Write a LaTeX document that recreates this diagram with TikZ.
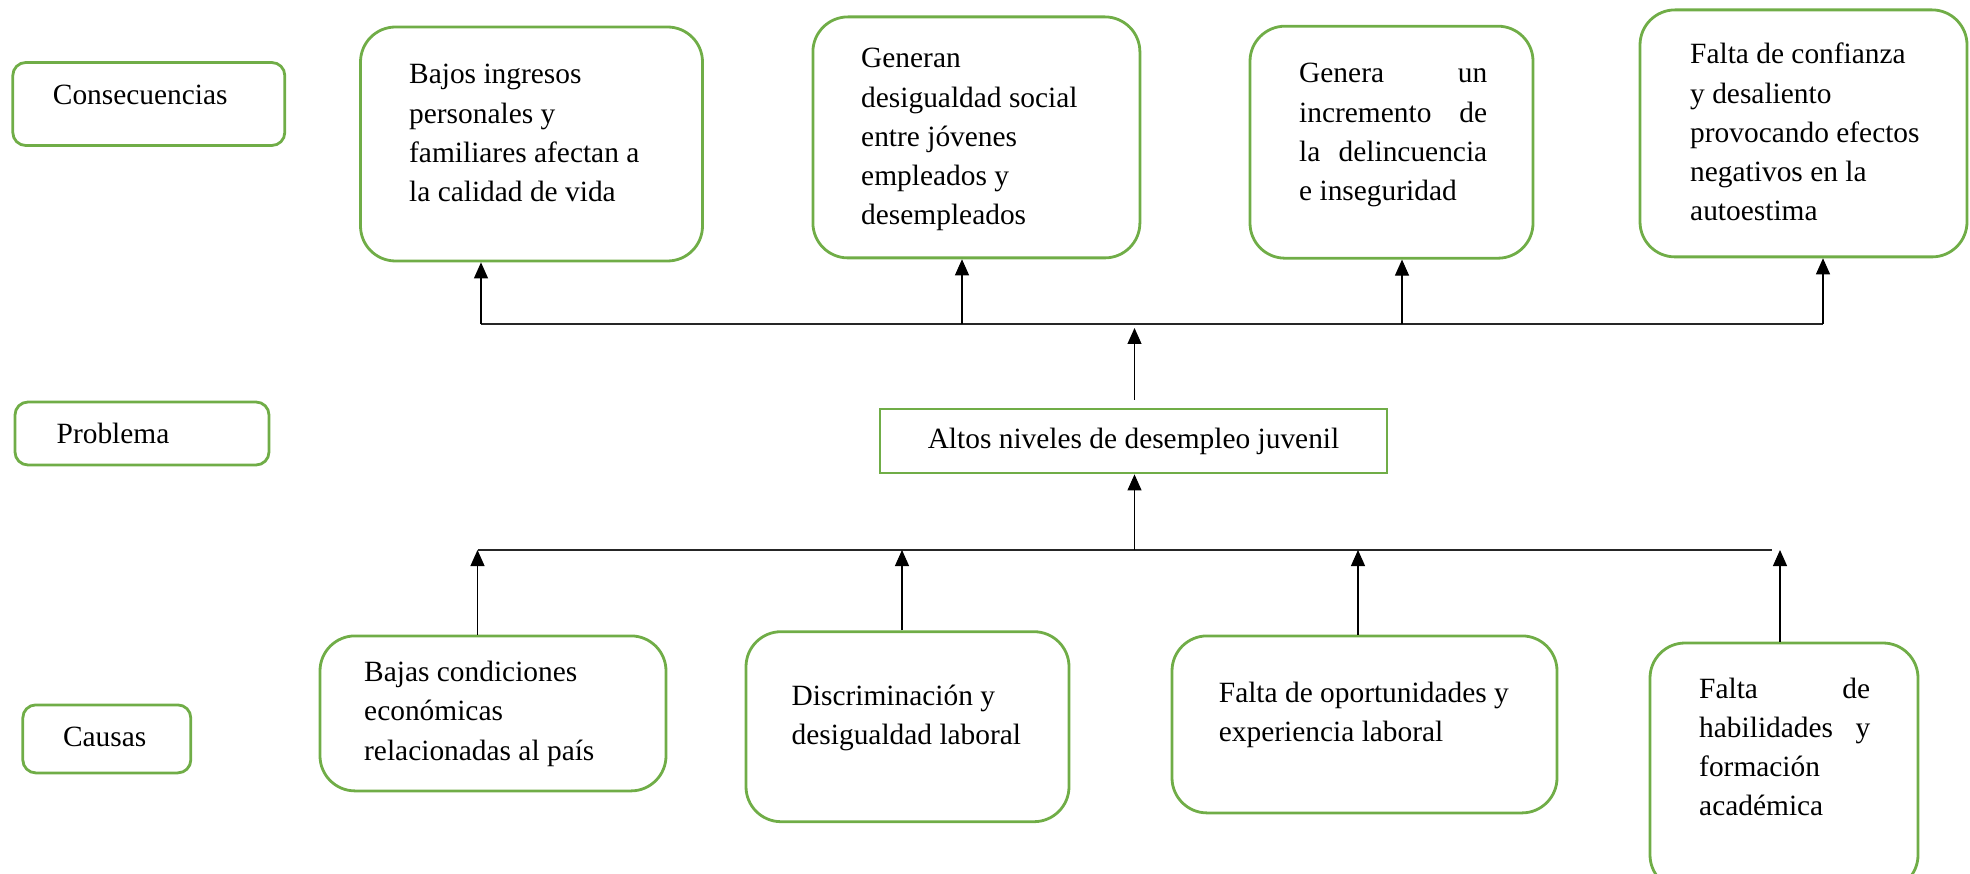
\documentclass[tikz,border=0pt]{standalone}
\usepackage{fontspec}
\setmainfont{Liberation Serif}
\usetikzlibrary{arrows.meta}
\definecolor{boxgreen}{RGB}{112,173,71}

\begin{document}
\begin{tikzpicture}[x=1pt, y=-1pt,
  box/.style={draw=boxgreen, line width=2.8pt, rounded corners=35pt, inner sep=0},
  tag/.style={draw=boxgreen, line width=2.8pt, rounded corners=13pt, inner sep=0},
  txt/.style={anchor=base west, inner sep=0, align=flush left, text width=#1,
    font=\fontsize{29.4}{39.2}\selectfont},
  txt/.default=330pt,
  arr/.style={-{Triangle[length=16pt,width=14pt]}, line width=1.1pt},
  bus/.style={line width=1.6pt, black!85}]
\useasboundingbox (0,0) rectangle (1970,874);
\clip (0,0) rectangle (1970,874);

% rotulos de la izquierda
\node[tag, minimum width=272pt, minimum height=83pt] (cons) at (148.8,104) {};
\node[tag, minimum width=254pt, minimum height=63pt] (prob) at (142,433.5) {};
\node[tag, minimum width=168pt, minimum height=68pt] (caus) at (106.8,738.9) {};
\node[txt] (const) at (52.7,105) {Consecuencias};
\node[txt] (probt) at (56.5,443.3) {Problema};
\node[txt] (caust) at (62.8,746) {Causas};

% consecuencias
\node[box, minimum width=342pt, minimum height=234pt] (c1) at (531.5,144) {};
\node[box, minimum width=327pt, minimum height=241pt] (c2) at (976.4,137.4) {};
\node[box, minimum width=283pt, minimum height=232pt] (c3) at (1391.5,142.2) {};
\node[box, minimum width=327pt, minimum height=247pt] (c4) at (1803.5,133.4) {};
\node[txt] (c1t) at (409,84) {Bajos ingresos\\personales y\\familiares afectan a\\la calidad de vida};
\node[txt] (c2t) at (861,68) {Generan\\desigualdad social\\entre jóvenes\\empleados y\\desempleados};
\node[txt=188pt] (c3t) at (1299,83) {Genera \hfill un\\incremento \hfill de\\la \hfill delincuencia\\e inseguridad};
\node[txt] (c4t) at (1690,64) {Falta de confianza\\y desaliento\\provocando efectos\\negativos en la\\autoestima};

% problema
\node[draw=boxgreen, line width=2.8pt, minimum width=507pt, minimum height=64pt,
  font=\fontsize{29.4}{39.2}\selectfont] (altos) at (1133.5,441) {Altos niveles de desempleo juvenil};

% causas
\node[box, minimum width=346pt, minimum height=155pt] (b1) at (493,713.4) {};
\node[box, minimum width=323pt, minimum height=190pt] (b2) at (907.5,726.7) {};
\node[box, minimum width=385pt, minimum height=177pt] (b3) at (1364.5,724.4) {};
\node[box, minimum width=268pt, minimum height=247pt] (b4) at (1784,766.5) {};
\node[txt] (b1t) at (364,681.7) {Bajas condiciones\\económicas\\relacionadas al país};
\node[txt] (b2t) at (791.5,705) {Discriminación y\\desigualdad laboral};
\node[txt] (b3t) at (1218.7,702.7) {Falta de oportunidades y\\experiencia laboral};
\node[txt=171pt] (b4t) at (1699,698) {Falta \hfill de\\habilidades \hfill y\\formación\\académica};

% flechas de arriba
\foreach \n/\x in {1/481,2/962,3/1402,4/1823}
  \coordinate (t\n) at (\x,324);
\coordinate (tm) at (1134.5,324);
\draw[bus] (t1) -- (t4);
\foreach \n in {1,...,4}
  \draw[arr] (t\n) -- (t\n |- c\n.south);
\draw[arr, shorten >=4pt] ([yshift=8pt]altos.north -| tm) -- (tm);

% flechas de abajo
\foreach \n/\x in {1/477.5,2/902,3/1358,4/1780}
  \coordinate (d\n) at (\x,550);
\coordinate (dm) at (1134.5,550);
\coordinate (dend) at (1771.5,550);
\draw[bus] (d1) -- (dend);
\foreach \n in {1,...,4}
  \draw[arr] (b\n.north -| d\n) -- (d\n);
\draw[arr] (dm) -- (altos.south -| dm);
\end{tikzpicture}
\end{document}
